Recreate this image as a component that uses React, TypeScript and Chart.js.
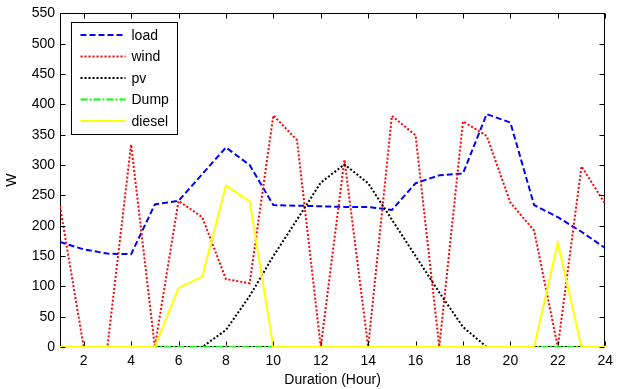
import React, { useEffect, useRef } from "react";
import { Chart, registerables } from "chart.js";

Chart.register(...registerables);

const hours = [1, 2, 3, 4, 5, 6, 7, 8, 9, 10, 11, 12, 13, 14, 15, 16, 17, 18, 19, 20, 21, 22, 23, 24];
const loadW = [173, 161, 154, 153, 235, 241, 285, 329, 300, 234, 233, 232, 231, 231, 226, 270, 283, 286, 384, 370, 234, 214, 190, 163];
const windW = [232, 0, 0, 334, 0, 241, 214, 112, 105, 382, 341, 0, 309, 0, 381, 349, 0, 372, 348, 238, 192, 0, 298, 236];
const pvW = [0, 0, 0, 0, 0, 0, 0, 28, 84, 150, 210, 271, 301, 270, 210, 150, 90, 33, 0, 0, 0, 0, 0, 0];
const dumpW = [0, 0, 0, 0, 0, 0, 0, 0, 0, 0, 0, 0, 0, 0, 0, 0, 0, 0, 0, 0, 0, 0, 0, 0];
const dieselW = [0, 0, 0, 0, 0, 97, 116, 266, 240, 0, 0, 0, 0, 0, 0, 0, 0, 0, 0, 0, 0, 172, 0, 0];
const xTicks = [2, 4, 6, 8, 10, 12, 14, 16, 18, 20, 22, 24];
const seriesNames = ["load", "wind", "pv", "Dump", "diesel"];

const FONT = "'Liberation Sans', Arial, sans-serif";

const toXY = (vals: number[]) => vals.map((v, i) => ({ x: hours[i], y: v }));

const edges = (chart: any) => {
  const { left, right, top, bottom } = chart.chartArea;
  return {
    L: Math.round(left) + 0.5,
    R: Math.round(right) - 0.5,
    T: Math.round(top) + 0.5,
    B: Math.round(bottom) - 0.5,
  };
};

const matlabPlugin = {
  id: "matlabFrame",
  beforeDatasetsDraw(chart: any) {
    const { ctx } = chart;
    const { L, R, T, B } = edges(chart);
    ctx.save();
    ctx.setLineDash([]);
    ctx.strokeStyle = "#000";
    ctx.lineWidth = 1;
    ctx.strokeRect(L, T, R - L, B - T);
    ctx.restore();
  },
  afterDatasetsDraw(chart: any) {
    const { ctx, scales } = chart;
    const { L, R, T, B } = edges(chart);
    ctx.save();
    ctx.setLineDash([]);
    ctx.strokeStyle = "#000";
    ctx.lineWidth = 1;
    const tl = 5;
    ctx.beginPath();
    scales.y.ticks.forEach((t: any) => {
      const py = Math.round(scales.y.getPixelForValue(t.value)) + 0.5;
      ctx.moveTo(L, py);
      ctx.lineTo(L + tl, py);
      ctx.moveTo(R, py);
      ctx.lineTo(R - tl, py);
    });
    scales.x.ticks.forEach((t: any) => {
      const px = Math.round(scales.x.getPixelForValue(t.value)) + 0.5;
      ctx.moveTo(px, B - 1);
      ctx.lineTo(px, B - tl);
      ctx.moveTo(px, T);
      ctx.lineTo(px, T + tl);
    });
    ctx.stroke();

    // legend box (MATLAB style)
    const bx = L + 11;
    const by = T + 9;
    const bw = 106;
    const bh = 112;
    ctx.fillStyle = "#fff";
    ctx.fillRect(bx, by, bw, bh);
    ctx.strokeStyle = "#000";
    ctx.lineWidth = 1;
    ctx.strokeRect(bx, by, bw, bh);
    ctx.font = `14px ${FONT}`;
    ctx.textBaseline = "middle";
    ctx.textAlign = "left";
    chart.data.datasets.forEach((ds: any, i: number) => {
      const cy = by + 12.5 + i * 21.5;
      ctx.save();
      ctx.strokeStyle = ds.borderColor;
      ctx.lineWidth = ds.borderWidth;
      ctx.setLineDash(ds.borderDash || []);
      ctx.beginPath();
      ctx.moveTo(bx + 9, cy);
      ctx.lineTo(bx + 54, cy);
      ctx.stroke();
      ctx.restore();
      ctx.fillStyle = "#000";
      ctx.fillText(ds.label, bx + 60, cy + 1);
    });
    ctx.restore();
  },
};

export default function App() {
  const ref = useRef<HTMLCanvasElement | null>(null);
  useEffect(() => {
    if (!ref.current) return;
    const chart = new Chart(ref.current, {
      type: "line",
      data: {
        datasets: [
          { label: seriesNames[0], data: toXY(loadW), borderColor: "#0000ff", borderWidth: 2, borderDash: [6, 3], order: 5 },
          { label: seriesNames[1], data: toXY(windW), borderColor: "#ff0000", borderWidth: 2, borderDash: [2, 2], order: 4 },
          { label: seriesNames[2], data: toXY(pvW), borderColor: "#000000", borderWidth: 2, borderDash: [2, 2], order: 3 },
          { label: seriesNames[3], data: toXY(dumpW), borderColor: "#00ff00", borderWidth: 2, borderDash: [7, 2, 2, 2], order: 2 },
          { label: seriesNames[4], data: toXY(dieselW), borderColor: "#ffff00", borderWidth: 2, order: 1 },
        ] as any,
      },
      options: {
        animation: false,
        responsive: false,
        devicePixelRatio: 1,
        layout: { padding: { top: 13, right: 7, left: 0, bottom: 0 } },
        elements: { point: { radius: 0 }, line: { tension: 0 } },
        plugins: { legend: { display: false }, tooltip: { enabled: false } },
        scales: {
          x: {
            type: "linear",
            min: 1,
            max: 24,
            grid: { display: false, drawTicks: false },
            border: { display: false },
            afterBuildTicks: (s: any) => {
              s.ticks = xTicks.map((v) => ({ value: v }));
            },
            afterFit: (s: any) => {
              s.height = 42;
            },
            ticks: {
              autoSkip: false,
              maxRotation: 0,
              padding: 6,
              color: "#000",
              font: { family: FONT, size: 14 },
            },
            title: {
              display: true,
              text: "Duration (Hour)",
              color: "#000",
              font: { family: FONT, size: 14 },
              padding: { top: 0, bottom: 0 },
            },
          },
          y: {
            min: 0,
            max: 550,
            grid: { display: false, drawTicks: false },
            border: { display: false },
            afterFit: (s: any) => {
              s.width = 60;
            },
            ticks: {
              stepSize: 50,
              padding: 5,
              color: "#000",
              font: { family: FONT, size: 14 },
            },
            title: {
              display: true,
              text: "W",
              color: "#000",
              font: { family: FONT, size: 14 },
              padding: { top: 4, bottom: 0 },
            },
          },
        },
      },
      plugins: [matlabPlugin],
    } as any);
    return () => chart.destroy();
  }, []);
  return (
    <div style={{ position: "absolute", left: 0, top: 0, width: 619, height: 389, background: "#fff" }}>
      <canvas ref={ref} width={619} height={389} />
    </div>
  );
}
